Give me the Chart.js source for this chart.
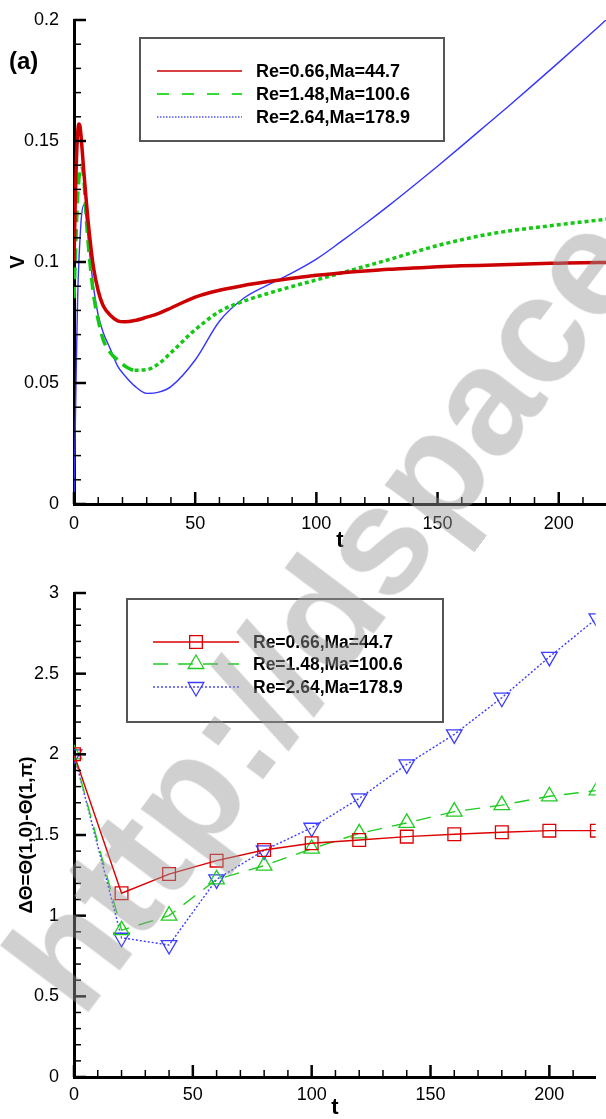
<!DOCTYPE html>
<html>
<head>
<meta charset="utf-8">
<script src="https://cdn.jsdelivr.net/npm/chart.js@4/dist/chart.umd.min.js"></script>
<style>
  body { margin: 0; background: #fff; width: 606px; height: 1119px; overflow: hidden; position: relative; }
  #topChart { position: absolute; left: 0; top: 0; }
  #bottomChart { position: absolute; left: 0; top: 560px; }
  #wm {
    position: absolute; left: 88px; top: 888px;
    transform-origin: 0 137px; transform: rotate(-53deg);
    font: bold 152px "Liberation Sans", Arial, sans-serif; line-height: 152px;
    color: rgba(150, 150, 150, 0.45); white-space: nowrap; pointer-events: none;
  }
</style>
</head>
<body>
<canvas id="topChart" width="606" height="560"></canvas>
<canvas id="bottomChart" width="606" height="559"></canvas>
<div id="wm">http://dspace</div>
<script>
// (a) velocity V against time t
const tTop = [0, 0.5, 1, 1.5, 2, 2.5, 3, 4, 5, 6, 8, 10, 12, 15, 18, 21, 25, 30, 35, 40,
  50, 60, 70, 80, 90, 100, 110, 120, 130, 140, 150, 160, 170, 180, 190, 200, 210, 220];
const vRe066 = [0.1, 0.125, 0.142, 0.153, 0.157, 0.156, 0.151, 0.138, 0.126, 0.115, 0.098, 0.088, 0.082,
  0.078, 0.0757, 0.0753, 0.0758, 0.0772, 0.0788, 0.081, 0.0855, 0.0883, 0.0903, 0.0919, 0.0933, 0.0945,
  0.0955, 0.0963, 0.097, 0.0975, 0.098, 0.0984, 0.0987, 0.099, 0.0993, 0.0995, 0.0997, 0.0998];
const vRe148 = [0.085, 0.1, 0.115, 0.127, 0.134, 0.139, 0.14, 0.135, 0.119, 0.106, 0.087, 0.076, 0.068,
  0.0625, 0.0595, 0.057, 0.0553, 0.0555, 0.058, 0.0625, 0.072, 0.0795, 0.0838, 0.087, 0.0899, 0.0926,
  0.0954, 0.0982, 0.101, 0.104, 0.1068, 0.1092, 0.1113, 0.1129, 0.1142, 0.1154, 0.1166, 0.1177];
const vRe264 = [0, 0.03, 0.06, 0.085, 0.1, 0.11, 0.118, 0.1236, 0.118, 0.108, 0.09, 0.078, 0.071,
  0.064, 0.057, 0.053, 0.0488, 0.0457, 0.0462, 0.0485, 0.0595, 0.0755, 0.085, 0.0905, 0.0955, 0.1012,
  0.1083, 0.1157, 0.1234, 0.1314, 0.1396, 0.148, 0.1565, 0.165, 0.1737, 0.1825, 0.1914, 0.2005];

// (b) temperature difference against time t
const tBottom = [0, 20, 40, 60, 80, 100, 120, 140, 160, 180, 200, 220];
const dRe066 = [2.0, 1.139, 1.258, 1.341, 1.407, 1.449, 1.469, 1.49, 1.505, 1.517, 1.527, 1.527];
const dRe148 = [2.0, 0.91, 1.0, 1.225, 1.31, 1.415, 1.51, 1.575, 1.645, 1.685, 1.74, 1.776];
const dRe264 = [2.0, 0.863, 0.818, 1.225, 1.405, 1.545, 1.727, 1.938, 2.124, 2.351, 2.604, 2.843];

const seriesLabels = ["Re=0.66,Ma=44.7", "Re=1.48,Ma=100.6", "Re=2.64,Ma=178.9"];

const FONT = '"Liberation Sans", Arial, sans-serif';
const toPoints = (xs, ys) => xs.map((x, i) => ({ x: x, y: ys[i] }));

// ticks drawn inward, long on major values
const inwardTicks = {
    id: 'inwardTicks',
    afterDatasetsDraw(chart, args, opts) {
        const { ctx, chartArea } = chart;
        const xs = chart.scales.x, ys = chart.scales.y;
        ctx.save();
        ctx.strokeStyle = '#000';
        xs.ticks.forEach(t => {
            const px = xs.getPixelForValue(t.value);
            const major = Math.abs(t.value % 50) < 1e-6;
            ctx.lineWidth = major ? 2.5 : 1.5;
            ctx.beginPath();
            ctx.moveTo(px, chartArea.bottom);
            ctx.lineTo(px, chartArea.bottom - (major ? 12 : 7));
            ctx.stroke();
        });
        ys.ticks.forEach(t => {
            const py = ys.getPixelForValue(t.value);
            const major = opts.isMajor(t.value);
            ctx.lineWidth = major ? 2.5 : 1.5;
            ctx.beginPath();
            ctx.moveTo(chartArea.left, py);
            ctx.lineTo(chartArea.left + (major ? 12 : 7), py);
            ctx.stroke();
        });
        ctx.restore();
    }
};

// boxed legend drawn like the original figure
const boxLegend = {
    id: 'boxLegend',
    afterDraw(chart, args, opts) {
        const ctx = chart.ctx;
        const b = opts.box;
        ctx.save();
        ctx.strokeStyle = '#555';
        ctx.lineWidth = 2;
        ctx.strokeRect(b[0], b[1], b[2] - b[0], b[3] - b[1]);
        opts.rows.forEach((r, i) => {
            const y = opts.rowY[i];
            ctx.strokeStyle = r.color;
            ctx.lineWidth = r.width;
            ctx.setLineDash(r.dash);
            ctx.beginPath();
            ctx.moveTo(opts.lineX[0], y);
            ctx.lineTo(opts.lineX[1], y);
            ctx.stroke();
            ctx.setLineDash([]);
            if (r.marker) {
                ctx.fillStyle = 'rgba(0,0,0,0)';
                ctx.lineWidth = 1.3;
                Chart.helpers.drawPoint(ctx, { pointStyle: r.marker, rotation: r.rotation || 0, radius: 9, borderWidth: 1.3 },
                    (opts.lineX[0] + opts.lineX[1]) / 2, y);
            }
            ctx.fillStyle = '#000';
            ctx.font = 'bold ' + opts.fontSize + 'px ' + FONT;
            ctx.textBaseline = 'middle';
            ctx.textAlign = 'left';
            ctx.fillText(chart.data.datasets[i].label, opts.textX, y + 1);
        });
        if (opts.tag) {
            ctx.fillStyle = '#000';
            ctx.font = 'bold 24px ' + FONT;
            ctx.textBaseline = 'middle';
            ctx.fillText(opts.tag, 9, 62);
        }
        ctx.restore();
    }
};

function xAxis(height, labelPad, titlePad) {
    return {
        type: 'linear', min: 0, max: 219.5,
        afterFit: s => { s.height = height; },
        grid: { display: false },
        border: { display: true, color: '#000', width: 3 },
        ticks: {
            stepSize: 10, includeBounds: false, autoSkip: false, maxRotation: 0, minRotation: 0,
            padding: labelPad, color: '#000', font: { family: FONT, size: 18 },
            callback: v => (v % 50 === 0 ? String(v) : '')
        },
        title: { display: true, text: 't', color: '#000', padding: { top: 0, bottom: titlePad },
            font: { family: FONT, size: 22, weight: 'bold', lineHeight: 1 } }
    };
}

new Chart(document.getElementById('topChart'), {
    type: 'line',
    data: {
        datasets: [
            { label: seriesLabels[0], data: toPoints(tTop, vRe066), borderColor: '#cc0000', borderWidth: 3.5 },
            { label: seriesLabels[1], data: toPoints(tTop, vRe148), borderColor: '#14c814', borderWidth: 3.5,
              segment: { borderDash: c => (c.p0.parsed.x < 25 ? [12, 7] : [4, 3]) } },
            { label: seriesLabels[2], data: toPoints(tTop, vRe264), borderColor: '#3535ff', borderWidth: 1.4 }
        ]
    },
    options: {
        responsive: false, animation: false,
        layout: { padding: { top: 20, left: 0, right: 0, bottom: 0 } },
        elements: { point: { radius: 0 }, line: { cubicInterpolationMode: 'monotone', fill: false } },
        plugins: {
            legend: { display: false }, tooltip: { enabled: false },
            inwardTicks: { isMajor: v => Math.round(v * 100) % 5 === 0 },
            boxLegend: {
                box: [140, 38, 444, 141], lineX: [157, 242], rowY: [71, 94, 117], textX: 256, fontSize: 18, tag: '(a)',
                rows: [
                    { color: '#cc0000', width: 1.5, dash: [] },
                    { color: '#33dd33', width: 2, dash: [12, 13] },
                    { color: '#5555ff', width: 1.5, dash: [1.5, 1.5] }
                ]
            }
        },
        scales: {
            x: xAxis(56, 1, 8),
            y: {
                type: 'linear', min: 0, max: 0.2,
                afterFit: s => { s.width = 74; },
                grid: { display: false },
                border: { display: true, color: '#000', width: 3 },
                ticks: {
                    stepSize: 0.01, autoSkip: false, padding: 7, color: '#000', font: { family: FONT, size: 18 },
                    callback: v => (Math.round(v * 100) % 5 === 0 ? String(+v.toFixed(2)) : '')
                },
                title: { display: true, text: 'V', color: '#000', padding: { top: 6, bottom: 0 },
                    font: { family: FONT, size: 20, weight: 'bold' } }
            }
        }
    },
    plugins: [inwardTicks, boxLegend]
});

new Chart(document.getElementById('bottomChart'), {
    type: 'line',
    data: {
        datasets: [
            { label: seriesLabels[0], data: toPoints(tBottom, dRe066), borderColor: '#dd0000', borderWidth: 1.4,
              pointStyle: 'rect', pointRadius: 9, pointBorderWidth: 1.3 },
            { label: seriesLabels[1], data: toPoints(tBottom, dRe148), borderColor: '#22cc22', borderWidth: 1.4,
              borderDash: [15, 10], pointStyle: 'triangle', pointRadius: 9, pointBorderWidth: 1.3 },
            { label: seriesLabels[2], data: toPoints(tBottom, dRe264), borderColor: '#3c3cff', borderWidth: 1.4,
              borderDash: [2, 2], pointStyle: 'triangle', pointRotation: 180, pointRadius: 9, pointBorderWidth: 1.3 }
        ]
    },
    options: {
        responsive: false, animation: false,
        layout: { padding: { top: 33, left: 0, right: 0, bottom: 0 } },
        elements: { point: { backgroundColor: 'rgba(0,0,0,0)' }, line: { tension: 0, fill: false } },
        datasets: { line: { pointBackgroundColor: 'rgba(0,0,0,0)' } },
        plugins: {
            legend: { display: false }, tooltip: { enabled: false },
            inwardTicks: { isMajor: v => Math.round(v * 10) % 5 === 0 },
            boxLegend: {
                box: [127, 39, 443, 162], lineX: [153, 239], rowY: [82, 104, 127], textX: 253, fontSize: 17.5,
                rows: [
                    { color: '#dd0000', width: 1.4, dash: [], marker: 'rect' },
                    { color: '#22cc22', width: 1.4, dash: [15, 10], marker: 'triangle' },
                    { color: '#3c3cff', width: 1.4, dash: [2, 2], marker: 'triangle', rotation: 180 }
                ]
            }
        },
        scales: {
            x: xAxis(42, -1, 0),
            y: {
                type: 'linear', min: 0, max: 3,
                afterFit: s => { s.width = 74; },
                grid: { display: false },
                border: { display: true, color: '#000', width: 3 },
                ticks: {
                    stepSize: 0.1, autoSkip: false, padding: 7, color: '#000', font: { family: FONT, size: 18 },
                    callback: v => (Math.round(v * 10) % 5 === 0 ? String(+v.toFixed(1)) : '')
                },
                title: { display: true, text: 'ΔΘ=Θ(1,0)-Θ(1,π)', color: '#000', padding: { top: 15, bottom: 0 },
                    font: { family: FONT, size: 19, weight: 'bold' } }
            }
        }
    },
    plugins: [inwardTicks, boxLegend]
});
</script>
</body>
</html>
